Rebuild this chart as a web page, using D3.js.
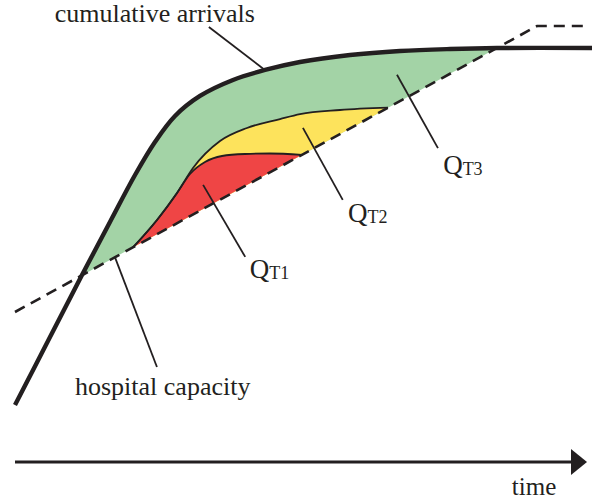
<!DOCTYPE html>
<html>
<head>
<meta charset="utf-8">
<script src="https://cdn.jsdelivr.net/npm/d3@7"></script>
<style>
  html, body { margin: 0; padding: 0; background: #fff; }
  svg { display: block; }
</style>
</head>
<body>
<svg id="chart" width="592" height="504"></svg>
<script>
// cumulative arrivals (time, queue units)
var arrivalsT = [0, 6.07, 11.61, 16.46, 20.8, 24.26, 27.73, 32.06, 37.78, 43.33, 49.39, 58.06, 66.72, 75.39, 83.54, 100];
var arrivalsQ = [12.9, 28.28, 42.31, 54.3, 64.93, 72.4, 78.28, 82.81, 86.43, 88.69, 90.5, 92.08, 92.99, 93.44, 93.67, 93.67];

// hospital capacity (dashed)
var capacityT = [0, 83.54, 90.47, 98.79];
var capacityQ = [33.94, 93.67, 98.64, 98.64];

// upper edges of the T2 (yellow) and T1 (red) queues
var t2T = [20.45, 24.61, 28.08, 30.85, 35.53, 40.21, 45.93, 49.39, 56.33, 64.64];
var t2Q = [48.55, 54.75, 60.86, 66.52, 72.62, 75.57, 77.6, 78.73, 79.64, 80.16];
var t1T = [20.45, 24.61, 28.08, 30.33, 32.93, 35.88, 39.86, 44.19, 49.74];
var t1Q = [48.55, 54.75, 60.86, 65.16, 67.87, 69.23, 69.68, 69.8, 69.5];

// labels and their leader lines
var labels = [
  {text: "cumulative arrivals", sub: "", t: 6.9, q: 99.5, lt: [33.6, 43.3], lq: [98.4, 88.7]},
  {text: "Q", sub: "T3", t: 74.2, q: 65.2, lt: [66.2, 73.3], lq: [87.6, 71.0]},
  {text: "Q", sub: "T2", t: 57.7, q: 54.3, lt: [49.9, 56.8], lq: [75.6, 59.3]},
  {text: "Q", sub: "T1", t: 40.7, q: 41.6, lt: [32.6, 39.9], lq: [62.7, 46.4]},
  {text: "hospital capacity", sub: "", t: 10.4, q: 15.2, lt: [17.3, 24.6], lq: [46.4, 21.5]}
];
var axisLabel = {text: "time", t: 86.1, q: -7.5};

var ink = "#231f20";
var fontFam = "'Liberation Serif', 'Times New Roman', serif";

var svg = d3.select("#chart");
var x = d3.scaleLinear().domain([0, 100]).range([15, 592]);
var y = d3.scaleLinear().domain([0, 100]).range([462, 20]);

function pts(ts, qs) {
  return ts.map(function(t, i) { return {t: t, q: qs[i]}; });
}

var arrivals = pts(arrivalsT, arrivalsQ);
var capacity = pts(capacityT, capacityQ);
var capAt = d3.scaleLinear().domain(capacityT).range(capacityQ);

var smooth = d3.line()
  .x(function(d) { return x(d.t); })
  .y(function(d) { return y(d.q); })
  .curve(d3.curveCatmullRom.alpha(0.5));

var line = d3.line()
  .x(function(d) { return x(d.t); })
  .y(function(d) { return y(d.q); })
  .curve(d3.curveMonotoneX);

function makeArea(c) {
  return d3.area()
    .x(function(d) { return x(d.t); })
    .y0(function(d) { return y(capAt(d.t)); })
    .y1(function(d) { return y(d.q); })
    .curve(c);
}

// green: between arrivals and capacity
var greenPts = arrivals.filter(function(d) { return d.t >= 11.61 && d.t <= 83.54; });
svg.append("path").attr("d", makeArea(d3.curveCatmullRom.alpha(0.5))(greenPts)).attr("fill", "#a3d3a6");

var t2 = pts(t2T, t2Q);
var t1 = pts(t1T, t1Q);
svg.append("path").attr("d", makeArea(d3.curveMonotoneX)(t2)).attr("fill", "#fde35c");
svg.append("path").attr("d", makeArea(d3.curveMonotoneX)(t1)).attr("fill", "#ef4545");

svg.append("path").attr("d", line(t2))
  .attr("fill", "none").attr("stroke", ink).attr("stroke-width", 1.8);
svg.append("path").attr("d", line(t1))
  .attr("fill", "none").attr("stroke", ink).attr("stroke-width", 1.8);

// capacity dashed line
svg.append("path")
  .attr("d", d3.line().x(function(d) { return x(d.t); }).y(function(d) { return y(d.q); })(capacity))
  .attr("fill", "none")
  .attr("stroke", ink)
  .attr("stroke-width", 2.6)
  .attr("stroke-dasharray", "11,7");

// cumulative arrivals thick line
svg.append("path").attr("d", smooth(arrivals))
  .attr("fill", "none").attr("stroke", ink).attr("stroke-width", 4.4)
  .attr("stroke-linejoin", "round");

// leaders
labels.forEach(function(l) {
  svg.append("line")
    .attr("x1", x(l.lt[0])).attr("y1", y(l.lq[0]))
    .attr("x2", x(l.lt[1])).attr("y2", y(l.lq[1]))
    .attr("stroke", ink).attr("stroke-width", 1.8);
});

// labels
labels.forEach(function(l) {
  var tx = svg.append("text")
    .attr("x", x(l.t)).attr("y", y(l.q))
    .attr("font-family", fontFam)
    .attr("font-size", l.sub ? 27 : 26)
    .attr("fill", ink);
  tx.append("tspan").text(l.text);
  if (l.sub) {
    tx.append("tspan").attr("font-size", 18).attr("dy", 1).text(l.sub);
  }
});

// time arrow
var axisY = y(0);
svg.append("line")
  .attr("x1", x(0)).attr("y1", axisY)
  .attr("x2", x(0) + 560).attr("y2", axisY)
  .attr("stroke", ink).attr("stroke-width", 3);
svg.append("path")
  .attr("d", "M" + (x(0) + 556) + "," + (axisY - 13) + "L" + (x(0) + 572) + "," + axisY + "L" + (x(0) + 556) + "," + (axisY + 13) + "Z")
  .attr("fill", ink);

svg.append("text")
  .attr("x", x(axisLabel.t)).attr("y", y(axisLabel.q))
  .attr("font-family", fontFam).attr("font-size", 25)
  .attr("fill", ink)
  .text(axisLabel.text);
</script>
</body>
</html>
